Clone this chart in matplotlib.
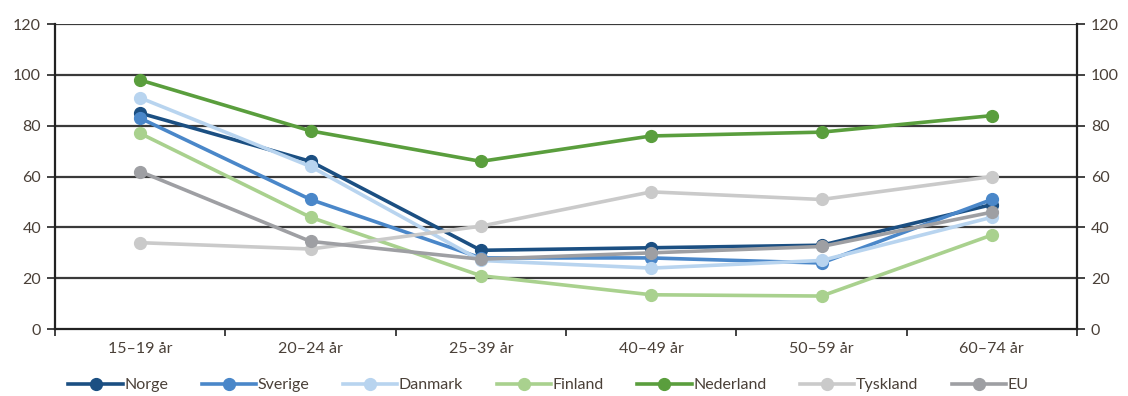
import numpy as np
import matplotlib.pyplot as plt

plt.rcParams['font.family'] = ['Lato', 'DejaVu Sans']

# Age groups and values per country
groups = ["15–19 år", "20–24 år", "25–39 år", "40–49 år", "50–59 år", "60–74 år"]
norge = [85, 66, 31, 32, 33, 49]
sverige = [83, 51, 28, 28, 26, 51]
danmark = [91, 64, 27, 24, 27, 44]
finland = [77, 44, 21, 13.5, 13, 37]
nederland = [98, 78, 66, 76, 77.5, 84]
tyskland = [34, 31.5, 40.5, 54, 51, 60]
eu = [62, 34.5, 27.5, 30, 32.5, 46]

series = [
    ("Norge", norge, "#1b4f82"),
    ("Sverige", sverige, "#4a87c9"),
    ("Danmark", danmark, "#b8d4ef"),
    ("Finland", finland, "#a9d18e"),
    ("Nederland", nederland, "#5a9e3d"),
    ("Tyskland", tyskland, "#cacaca"),
    ("EU", eu, "#9e9fa3"),
]

tick_color = "#4a4038"
x = np.arange(len(groups))

fig = plt.figure(figsize=(11.28, 3.96), dpi=100)
ax = fig.add_axes([0.0488, 0.169, 0.906, 0.77])

for yv in range(20, 121, 20):
    ax.axhline(yv, color="#3a3a3a", lw=1.6, zorder=1)

for name, vals, col in series:
    ax.plot(x, vals, color=col, lw=2.6, marker="o", markersize=8.5,
            label=name, zorder=3)

ax.set_xlim(-0.5, len(groups) - 0.5)
ax.set_ylim(0, 120)
ax.set_yticks(range(0, 121, 20))
ax.set_xticks(x)
ax.set_xticklabels(groups)
ax.set_xticks(np.arange(-0.5, len(groups)), minor=True)
ax.tick_params(axis="x", which="major", length=0, pad=9, labelsize=11.5,
               labelcolor=tick_color)
ax.tick_params(axis="x", which="minor", length=5, width=1.2, color="#222222")
ax.tick_params(axis="y", length=6, width=1.2, color="#222222", labelsize=11.5,
               labelcolor=tick_color, pad=4)

ax.spines["top"].set_visible(False)
for side in ["left", "right", "bottom"]:
    ax.spines[side].set_color("#222222")
    ax.spines[side].set_linewidth(1.6)

ax2 = ax.twinx()
ax2.set_ylim(0, 120)
ax2.set_yticks(range(0, 121, 20))
ax2.tick_params(axis="y", length=6, width=1.2, color="#222222", labelsize=11.5,
                labelcolor=tick_color, pad=4)
for side in ["top", "left", "bottom", "right"]:
    ax2.spines[side].set_visible(False)

ax.legend(loc="center", bbox_to_anchor=(0.483, -0.184), ncol=7,
          frameon=False, fontsize=11.5, handlelength=3.4, handletextpad=0.1,
          columnspacing=2.1, labelcolor=tick_color, borderpad=0.2)

fig.savefig("out.png", dpi=100)
